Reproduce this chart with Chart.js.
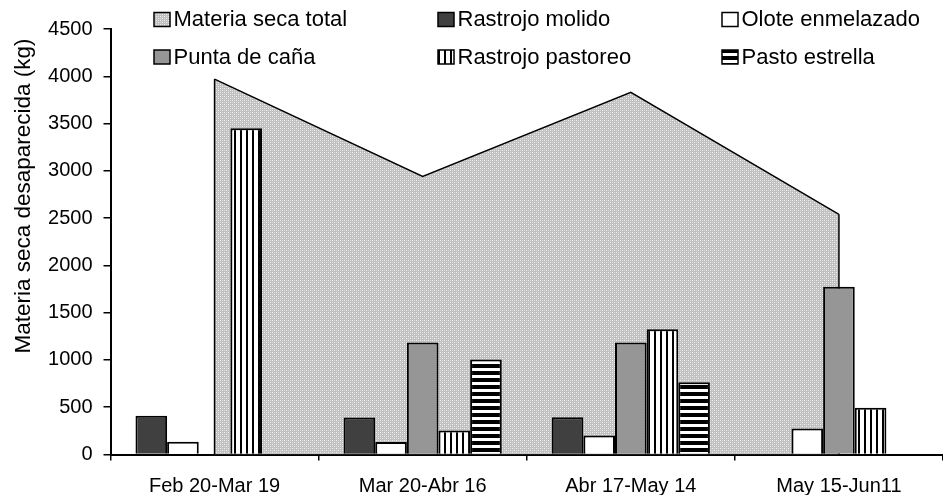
<!DOCTYPE html>
<html>
<head>
<meta charset="utf-8">
<script src="https://cdn.jsdelivr.net/npm/chart.js@4.4.1/dist/chart.umd.min.js"></script>
<style>
  html, body { margin: 0; padding: 0; background: #fff; }
  #wrap { position: relative; width: 943px; height: 495px; }
</style>
</head>
<body>
<div id="wrap"><canvas id="c" width="943" height="495"></canvas></div>
<script>
// Periods
const categories = ['Feb 20-Mar 19', 'Mar 20-Abr 16', 'Abr 17-May 14', 'May 15-Jun11'];

// Dry matter removed per period (kg)
const materiaSecaTotal = [3970, 2940, 3830, 2540];
const rastrojoMolido   = [410, 390, 395, null];
const oloteEnmelazado  = [135, 132, 200, 275];
const puntaDeCana      = [null, 1185, 1185, 1775];
const rastrojoPastoreo = [3450, 255, 1325, 495];
const pastoEstrella    = [null, 1005, 765, null];

// Value axis
const yMin = 0, yMax = 4500, yStep = 500;
const yTitle = 'Materia seca desaparecida (kg)';

const FONT = '"Liberation Sans", Arial, sans-serif';
const canvas = document.getElementById('c');
const ctx0 = canvas.getContext('2d');

function makePattern(w, h, paint) {
  const t = document.createElement('canvas');
  t.width = w; t.height = h;
  paint(t.getContext('2d'));
  return ctx0.createPattern(t, 'repeat');
}

// Fine grey dither for the total area
const dotFill = makePattern(4, 4, g => {
  g.fillStyle = '#c0c0c0'; g.fillRect(0, 0, 4, 4);
  g.fillStyle = '#f2f2f2'; g.fillRect(0, 0, 1, 1); g.fillRect(2, 2, 1, 1);
  g.fillStyle = '#dcdcdc'; g.fillRect(2, 0, 1, 1); g.fillRect(0, 2, 1, 1);
});
// Vertical stripes
const vStripes = makePattern(6, 1, g => {
  g.fillStyle = '#ffffff'; g.fillRect(0, 0, 6, 1);
  g.fillStyle = '#000000'; g.fillRect(0, 0, 2, 1);
});
// Horizontal stripes
const hStripes = makePattern(1, 7, g => {
  g.fillStyle = '#ffffff'; g.fillRect(0, 0, 1, 7);
  g.fillStyle = '#000000'; g.fillRect(0, 0, 1, 4);
});

// Outline for the left and right edges of the filled total area
const areaEdges = {
  id: 'areaEdges',
  afterDatasetDraw(chart, args) {
    const ds = chart.data.datasets[args.index];
    if (ds.type !== 'line') return;
    const pts = args.meta.data;
    const base = chart.scales.y.getPixelForValue(0);
    const ctx = chart.ctx;
    ctx.save();
    ctx.strokeStyle = ds.borderColor;
    ctx.lineWidth = ds.borderWidth;
    ctx.beginPath();
    [pts[0], pts[pts.length - 1]].forEach(p => { ctx.moveTo(p.x, p.y); ctx.lineTo(p.x, base); });
    ctx.stroke();
    ctx.restore();
  }
};

// Three-column legend and rotated value-axis title
const decorations = {
  id: 'decorations',
  afterDraw(chart) {
    const ctx = chart.ctx;
    ctx.save();
    const cols = [154, 438, 722];
    const rows = [12.5, 50];
    ctx.font = '22px ' + FONT;
    ctx.textBaseline = 'alphabetic';
    ctx.textAlign = 'left';
    chart.data.datasets.forEach((ds, i) => {
      const x = cols[i % 3], y = rows[Math.floor(i / 3)];
      ctx.fillStyle = ds.backgroundColor;
      ctx.fillRect(x, y, 16, 14);
      ctx.lineWidth = 1.5;
      ctx.strokeStyle = '#000';
      ctx.strokeRect(x, y, 16, 14);
      ctx.fillStyle = '#000';
      ctx.fillText(ds.label, x + 19.5, y + 13.5);
    });
    ctx.translate(29.7, 196);
    ctx.rotate(-Math.PI / 2);
    ctx.font = '22.5px ' + FONT;
    ctx.textAlign = 'center';
    ctx.fillText(yTitle, 0, 0);
    ctx.restore();
  }
};

const barStyle = { borderColor: '#000', borderWidth: 2, categoryPercentage: 0.76, barPercentage: 1.0, order: 0 };

new Chart(canvas, {
  type: 'bar',
  data: {
    labels: categories,
    datasets: [
      { type: 'line', label: 'Materia seca total', data: materiaSecaTotal, fill: 'origin',
        backgroundColor: dotFill, borderColor: '#000', borderWidth: 1.5, pointRadius: 0, tension: 0, order: 1 },
      { label: 'Rastrojo molido', data: rastrojoMolido, backgroundColor: '#404040', ...barStyle },
      { label: 'Olote enmelazado', data: oloteEnmelazado, backgroundColor: '#ffffff', ...barStyle },
      { label: 'Punta de caña', data: puntaDeCana, backgroundColor: '#969696', ...barStyle },
      { label: 'Rastrojo pastoreo', data: rastrojoPastoreo, backgroundColor: vStripes, ...barStyle },
      { label: 'Pasto estrella', data: pastoEstrella, backgroundColor: hStripes, ...barStyle }
    ]
  },
  options: {
    responsive: false,
    devicePixelRatio: 1,
    animation: false,
    layout: { padding: { top: 29, left: 0, right: 0, bottom: 0 } },
    plugins: { legend: { display: false }, tooltip: { enabled: false } },
    scales: {
      x: {
        grid: { offset: true, drawOnChartArea: false, tickLength: 6, color: '#000', lineWidth: 1.5 },
        border: { color: '#000', width: 2 },
        ticks: { color: '#000', font: { family: FONT, size: 20 }, padding: 14, maxRotation: 0, autoSkip: false },
        afterFit(s) { s.height = 40.5; }
      },
      y: {
        min: yMin, max: yMax,
        grid: { drawOnChartArea: false, tickLength: 7, color: '#000', lineWidth: 1.5 },
        border: { color: '#000', width: 2 },
        ticks: { stepSize: yStep, color: '#000', font: { family: FONT, size: 20 }, padding: 11,
                 callback: v => String(v) },
        afterFit(s) { s.width = 110.5; }
      }
    }
  },
  plugins: [areaEdges, decorations]
});
</script>
</body>
</html>
